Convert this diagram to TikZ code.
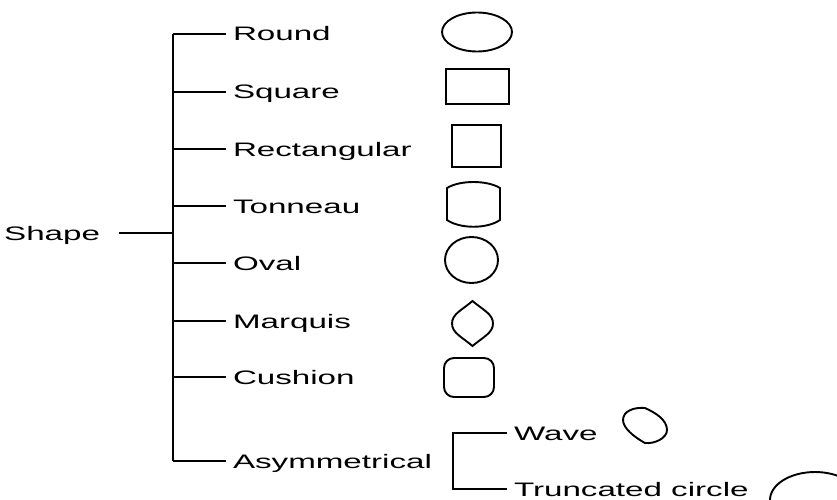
\documentclass[tikz,border=0pt]{standalone}
\usepackage{fontspec}
\newfontfamily\lblfont[FakeStretch=1.7]{Liberation Sans}
\begin{document}
\begin{tikzpicture}[x=1pt,y=-1pt,
  lbl/.style={inner sep=0pt, outer xsep=7pt, outer ysep=0pt, anchor=west,
              text height=14pt, text depth=0pt,
              font=\lblfont\fontsize{19.5}{21}\selectfont},
  wire/.style={line width=1.8pt},
  icon/.style={line width=1.9pt}]
\useasboundingbox (0,0) rectangle (837,500);
\clip (0,0) rectangle (837,500);

% main bracket
\coordinate (tTop) at (173,34);
\coordinate (tBot) at (173,461);
\draw[wire] (tTop) -- (tBot);

\node[lbl, outer xsep=0pt, anchor=east] (shape) at (100,233) {Shape};
\draw[wire] ([xshift=19pt]shape.east) -- (shape.east -| tTop);

\foreach \name/\txt/\yy in {round/Round/34, square/Square/92,
    rect/Rectangular/149, tonneau/Tonneau/206, oval/Oval/263,
    marquis/Marquis/321, cushion/Cushion/377, asym/Asymmetrical/461}{
  \node[lbl] (\name) at (226,\yy) {\txt};
  \draw[wire] (\name.west -| tTop) -- (\name.west);
}

% sub-bracket for asymmetrical shapes
\coordinate (sb) at (453,461);
\node[lbl] (wave) at (507,433) {Wave};
\node[lbl] (trunc) at (507,489) {Truncated circle};
\draw[wire] (wave.west) -- (wave.west -| sb) -- (trunc.west -| sb) -- (trunc.west);

% pictograms
\draw[icon] (477,32) ellipse [x radius=35, y radius=19.5];
\draw[icon] (446,69) rectangle (509,104);
\draw[icon] (452,125) rectangle (501,167);
\draw[icon] (447,188) .. controls (460,180) and (487,180) .. (500,188)
  -- (500,220) .. controls (487,229) and (460,229) .. (447,220) -- cycle;
\draw[icon] (471.5,260) ellipse [x radius=26.5, y radius=23];
\draw[icon] (472.5,301) .. controls (462,310) and (452,314) .. (452,323.5)
  .. controls (452,333) and (462,337) .. (472.5,346)
  .. controls (483,337) and (493,333) .. (493,323.5)
  .. controls (493,314) and (483,310) .. (472.5,301) -- cycle;
\draw[icon, rounded corners=10pt] (444,358) rectangle (494,397);
\draw[icon] (645,408) .. controls (656,413) and (667,420) .. (667,430)
  .. controls (667,438) and (655,444) .. (645,443)
  .. controls (634,437) and (623,428) .. (623,420)
  .. controls (623,411) and (634,407) .. (645,408) -- cycle;
\draw[icon] (815,500) ellipse [x radius=45, y radius=28];
\end{tikzpicture}
\end{document}
